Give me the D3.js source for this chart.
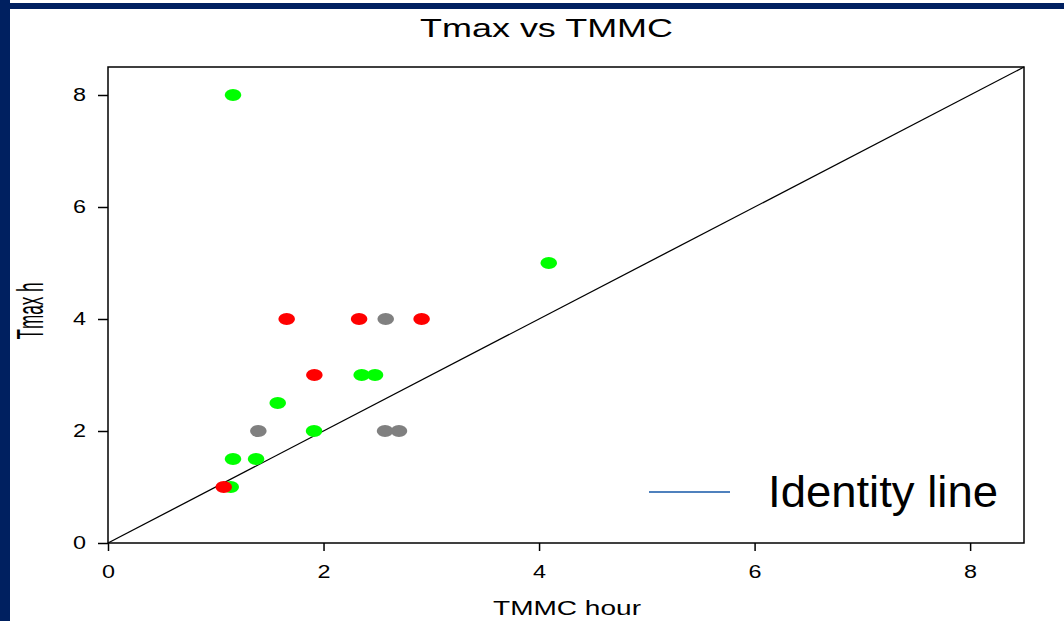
<!DOCTYPE html>
<html>
<head>
<meta charset="utf-8">
<script src="https://cdn.jsdelivr.net/npm/d3@7"></script>
<style>
  html, body { margin: 0; padding: 0; background: #fff; }
  svg { display: block; }
  text { font-family: "Liberation Sans", Arial, sans-serif; fill: #000; }
</style>
</head>
<body>
<svg id="chart" width="1064" height="621"></svg>
<script>
// Tick values for both axes
const xTicks = [0, 2, 4, 6, 8];
const yTicks = [0, 2, 4, 6, 8];

// Observations: TMMC (hours) vs Tmax (hours), grouped by colour
const greenX = [1.16, 4.09, 1.575, 2.354, 2.478, 1.912, 1.16, 1.374, 1.139];
const greenY = [8, 5, 2.5, 3, 3, 2, 1.5, 1.5, 1];
const greyX  = [2.577, 1.395, 2.571, 2.70];
const greyY  = [4, 2, 2, 2];
const redX   = [1.658, 2.33, 2.91, 1.915, 1.074];
const redY   = [4, 4, 4, 3, 1];

const identity = [0, 8.5];

const svg = d3.select("#chart");

// Page frame (dark blue bars)
svg.append("rect").attr("x", 0).attr("y", 3).attr("width", 1064).attr("height", 6).attr("fill", "#002060");
svg.append("rect").attr("x", 0).attr("y", 0).attr("width", 10).attr("height", 621).attr("fill", "#002060");

const x = d3.scaleLinear().domain([0, 8.5]).range([108, 1024]);
const y = d3.scaleLinear().domain([0, 8.5]).range([543, 67]);

// Title
svg.append("text")
  .attr("x", 420).attr("y", 37)
  .attr("font-size", 26)
  .attr("textLength", 253).attr("lengthAdjust", "spacingAndGlyphs")
  .text("Tmax vs TMMC");

// Axes
const xAxis = svg.append("g")
  .attr("transform", `translate(0,${y(0)})`)
  .call(d3.axisBottom(x).tickValues(xTicks).tickSize(8).tickSizeOuter(0).tickPadding(14));
const yAxis = svg.append("g")
  .attr("transform", `translate(${x(0)},0)`)
  .call(d3.axisLeft(y).tickValues(yTicks).tickSize(10).tickSizeOuter(0).tickPadding(12));

[xAxis, yAxis].forEach(g => {
  g.select(".domain").remove();
  g.selectAll(".tick line").attr("stroke", "#000").attr("stroke-width", 1.5);
  g.selectAll(".tick text")
    .attr("font-size", 18)
    .attr("font-family", "Liberation Sans, Arial, sans-serif")
    .attr("fill", "#000")
    .attr("textLength", 13).attr("lengthAdjust", "spacingAndGlyphs");
});

// Plot box
svg.append("rect")
  .attr("x", x(0)).attr("y", y(8.5))
  .attr("width", x(8.5) - x(0)).attr("height", y(0) - y(8.5))
  .attr("fill", "none").attr("stroke", "#000").attr("stroke-width", 1.5);

// Identity line
svg.append("line")
  .attr("x1", x(identity[0])).attr("y1", y(identity[0]))
  .attr("x2", x(identity[1])).attr("y2", y(identity[1]))
  .attr("stroke", "#000").attr("stroke-width", 1.3);

// Points
function drawPoints(xs, ys, color) {
  svg.append("g").selectAll("ellipse")
    .data(xs.map((d, i) => [d, ys[i]]))
    .join("ellipse")
    .attr("cx", d => x(d[0])).attr("cy", d => y(d[1]))
    .attr("rx", 8.3).attr("ry", 6)
    .attr("fill", color);
}
drawPoints(greenX, greenY, "#00ff00");
drawPoints(greyX, greyY, "#808080");
drawPoints(redX, redY, "#ff0000");

// Axis titles
svg.append("text")
  .attr("x", 567).attr("y", 615)
  .attr("text-anchor", "middle")
  .attr("font-size", 21)
  .attr("textLength", 148).attr("lengthAdjust", "spacingAndGlyphs")
  .text("TMMC hour");

svg.append("g")
  .attr("transform", "translate(43,311) scale(1.8,1) rotate(-90)")
  .append("text")
  .attr("text-anchor", "middle")
  .attr("font-size", 21)
  .attr("textLength", 57).attr("lengthAdjust", "spacingAndGlyphs")
  .text("Tmax h");

// Legend
svg.append("line")
  .attr("x1", 649).attr("x2", 730).attr("y1", 492).attr("y2", 492)
  .attr("stroke", "#4f81bd").attr("stroke-width", 2);
svg.append("text")
  .attr("x", 768).attr("y", 506.5)
  .attr("font-size", 44)
  .attr("font-family", "Open Sans, Liberation Sans, sans-serif")
  .attr("textLength", 230).attr("lengthAdjust", "spacingAndGlyphs")
  .text("Identity line");
</script>
</body>
</html>
